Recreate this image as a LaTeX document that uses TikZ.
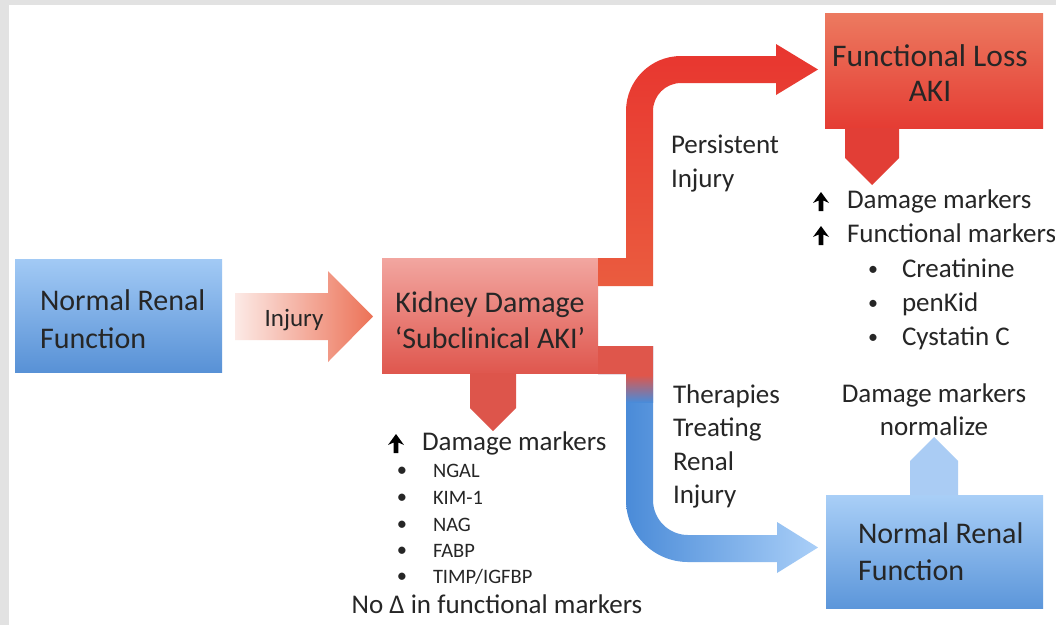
\documentclass[tikz,border=0pt]{standalone}
\usepackage{fontspec}
\setmainfont{Carlito}
\definecolor{txt}{HTML}{262626}
\definecolor{bgg}{HTML}{E2E2E2}
\definecolor{blueT}{HTML}{A2CAF5}
\definecolor{blueB}{HTML}{5891D6}
\definecolor{blue2T}{HTML}{A9CFF7}
\definecolor{blue2B}{HTML}{5C96DA}
\definecolor{pinkT}{HTML}{F2A6A0}
\definecolor{pinkB}{HTML}{DF574E}
\definecolor{flT}{HTML}{EC7A60}
\definecolor{flB}{HTML}{E53C33}
\definecolor{redT}{HTML}{E8352F}
\definecolor{redB}{HTML}{EA5C3F}
\definecolor{kdarrow}{HTML}{DD554B}
\definecolor{flarrow}{HTML}{E23E36}
\definecolor{upblue}{HTML}{AACCF4}
\definecolor{injL}{HTML}{FCEAE6}
\definecolor{injR}{HTML}{EC7257}
\definecolor{bArrowL}{HTML}{4A8BD8}
\definecolor{bArrowR}{HTML}{AACFF8}
\definecolor{stubred}{HTML}{DF564B}
\begin{document}
\begin{tikzpicture}[x=1pt,y=-1pt,
  box/.style={inner sep=0pt, outer sep=0pt, anchor=north west},
  boxtxt/.style={inner sep=0pt, outer sep=0pt, text=txt, font=\fontsize{30}{36}\selectfont},
  lsttxt/.style={inner sep=0pt, outer sep=0pt, text=txt, font=\fontsize{27}{32}\selectfont},
  smltxt/.style={inner sep=0pt, outer sep=0pt, text=txt, font=\fontsize{20.5}{24}\selectfont},
  uparr/.pic={\fill[black] (-2.4,0) -- (2.4,0) -- (2.4,-10.5) -- (8,-8) -- (0,-19) -- (-8,-8) -- (-2.4,-10.5) -- cycle;}]
\useasboundingbox (0,0) rectangle (1056,625);
\fill[bgg] (0,0) rectangle (1056,625);
\fill[white] (9,5) rectangle (1056,625);
\begin{scope}
\clip (9,5) rectangle (1054,625);

% boxes
\node[box, minimum width=207pt, minimum height=113pt, top color=blueT, bottom color=blueB] (nrf1) at (15,259) {};
\node[box, minimum width=216pt, minimum height=115pt, top color=pinkT, bottom color=pinkB] (kd) at (382,258) {};
\node[box, minimum width=218pt, minimum height=115pt, top color=flT, bottom color=flB] (fl) at (825,13) {};
\node[box, minimum width=217pt, minimum height=113pt, top color=blue2T, bottom color=blue2B] (nrf2) at (826,495) {};

% injury arrow
\shade[left color=injL, right color=injR] (235,293) -- (328,293) -- (328,271) -- (373,316.5) -- (328,362) -- (328,340) -- (235,340) -- cycle;

% kidney down arrow
\fill[kdarrow] (470,373) -- (516,373) -- (516,408) -- (493,431) -- (470,408) -- cycle;
% functional loss down arrow
\fill[flarrow] (845,128) -- (899,128) -- (899,158) -- (872,185) -- (845,158) -- cycle;
% normalize up arrow
\fill[upblue] (910,495) -- (958,495) -- (958,461) -- (934,437) -- (910,461) -- cycle;

% red bent arrow (persistent injury)
\shade[top color=redT, bottom color=redB] (598,258) -- (626,258) -- (626,111)
  arc[start angle=180, end angle=270, radius=55] -- (776,56) -- (776,44) -- (818,69.5)
  -- (776,95) -- (776,83) -- (681,83) arc[start angle=270, end angle=180, radius=28]
  -- (653,286) -- (598,286) -- cycle;

% blue bent arrow (therapies)
\begin{scope}
\clip (598,346) -- (653,346) -- (653,500) arc[start angle=180, end angle=90, radius=35]
  -- (777,535) -- (777,522) -- (818,547.5) -- (777,573) -- (777,562) -- (688,562)
  arc[start angle=90, end angle=180, radius=62] -- (626,374) -- (598,374) -- cycle;
\shade[left color=bArrowL, right color=bArrowR] (626,340) rectangle (818,580);
\fill[bArrowL] (598,340) rectangle (626,580);
\fill[stubred] (598,340) rectangle (660,375);
\shade[top color=stubred, bottom color=bArrowL] (598,375) rectangle (660,402);
\end{scope}

% box texts
\node[boxtxt, anchor=base west] (t1a) at (40,310) {Normal Renal};
\node[boxtxt, anchor=base west] (t1b) at (40,348) {Function};
\node[lsttxt, font=\fontsize{25}{30}\selectfont, anchor=base] (tinj) at (294,326) {Injury};
\node[boxtxt, anchor=base] (t2a) at (490,312) {Kidney Damage};
\node[boxtxt, anchor=base] (t2b) at (490,348) {‘Subclinical AKI’};
\node[boxtxt, font=\fontsize{31.5}{37}\selectfont, anchor=base] (t3a) at (930,66) {Functional Loss};
\node[boxtxt, font=\fontsize{31.5}{37}\selectfont, anchor=base] (t3b) at (930,101) {AKI};
\node[boxtxt, anchor=base west] (t4a) at (858,543) {Normal Renal};
\node[boxtxt, anchor=base west] (t4b) at (858,580) {Function};

% arrow labels
\node[lsttxt, anchor=base west] (p1) at (671,153) {Persistent};
\node[lsttxt, anchor=base west] (p2) at (671,187) {Injury};
\node[lsttxt, anchor=base west] (q1) at (673,403) {Therapies};
\node[lsttxt, anchor=base west] (q2) at (673,436) {Treating};
\node[lsttxt, anchor=base west] (q3) at (673,470) {Renal};
\node[lsttxt, anchor=base west] (q4) at (673,503) {Injury};
\node[lsttxt, anchor=base] (n1) at (934,402) {Damage markers};
\node[lsttxt, anchor=base] (n2) at (934,435) {normalize};

% right list
\pic at (821,211) {uparr};
\node[lsttxt, anchor=base west] (r1) at (847,208) {Damage markers};
\pic at (821,245) {uparr};
\node[lsttxt, anchor=base west] (r2) at (847,242) {Functional markers};
\node[lsttxt, font=\fontsize{20}{24}\selectfont, anchor=base] (b1) at (873,275) {•};
\node[lsttxt, anchor=base west] (r3) at (902,277) {Creatinine};
\node[lsttxt, font=\fontsize{20}{24}\selectfont, anchor=base] (b2) at (873,309) {•};
\node[lsttxt, anchor=base west] (r4) at (902,311) {penKid};
\node[lsttxt, font=\fontsize{20}{24}\selectfont, anchor=base] (b3) at (873,343) {•};
\node[lsttxt, anchor=base west] (r5) at (902,345) {Cystatin C};

% kidney list
\pic at (396,453) {uparr};
\node[lsttxt, anchor=base west] (k0) at (422,450) {Damage markers};
\node[smltxt, anchor=base] (kb1) at (402,476) {•};
\node[smltxt, anchor=base west] (k1) at (433,477) {NGAL};
\node[smltxt, anchor=base] (kb2) at (402,503) {•};
\node[smltxt, anchor=base west] (k2) at (433,504) {KIM-1};
\node[smltxt, anchor=base] (kb3) at (402,530) {•};
\node[smltxt, anchor=base west] (k3) at (433,531) {NAG};
\node[smltxt, anchor=base] (kb4) at (402,556) {•};
\node[smltxt, anchor=base west] (k4) at (433,557) {FABP};
\node[smltxt, anchor=base] (kb5) at (402,582) {•};
\node[smltxt, anchor=base west] (k5) at (433,583) {TIMP/IGFBP};
\node[lsttxt, anchor=base] (k6) at (497,613) {No Δ in functional markers};
\end{scope}
\end{tikzpicture}
\end{document}
